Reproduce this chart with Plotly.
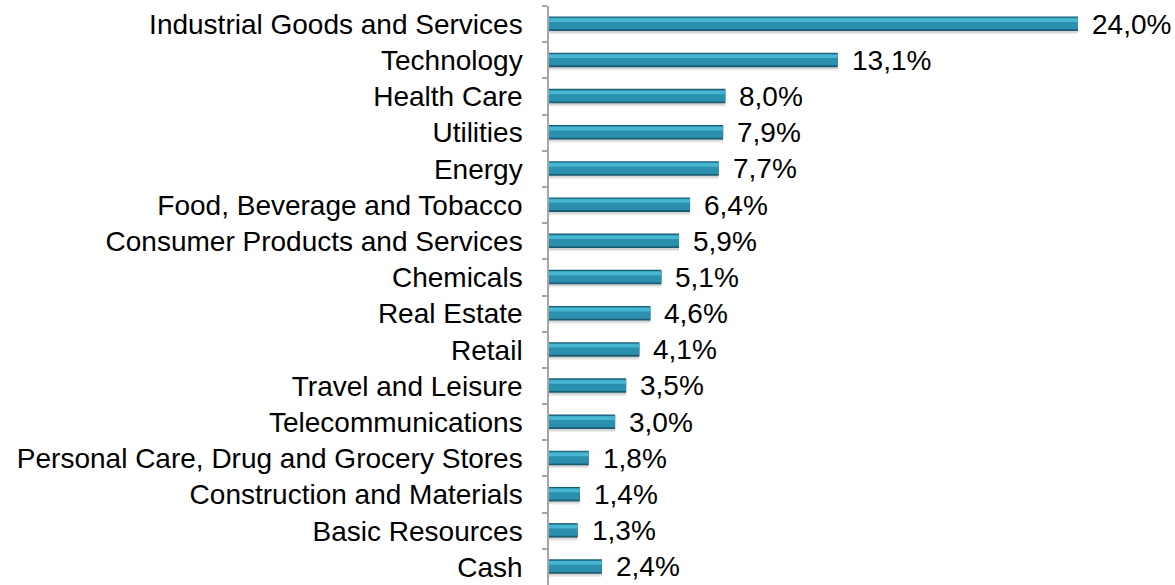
import plotly.graph_objects as go

categories = [
    "Industrial Goods and Services", "Technology", "Health Care", "Utilities",
    "Energy", "Food, Beverage and Tobacco", "Consumer Products and Services",
    "Chemicals", "Real Estate", "Retail", "Travel and Leisure",
    "Telecommunications", "Personal Care, Drug and Grocery Stores",
    "Construction and Materials", "Basic Resources", "Cash",
]
values = [24.0, 13.1, 8.0, 7.9, 7.7, 6.4, 5.9, 5.1, 4.6, 4.1, 3.5, 3.0, 1.8, 1.4, 1.3, 2.4]
labels = [f"{v:.1f}%".replace(".", ",") for v in values]

FONT = "Liberation Sans, Arial, sans-serif"
fig = go.Figure()

layers = [
    ("rgba(0,0,0,0.07)", 0.46, -0.18),
    ("rgba(0,0,0,0.10)", 0.42, -0.18),
    ("#1a5c72", 0.40, -0.21),
    ("#2b8fae", 0.32, -0.18),
    ("#47b7d1", 0.10, -0.16),
]
for color, w, off in layers:
    fig.add_trace(go.Bar(
        x=values, y=categories, orientation="h",
        marker=dict(color=color, line=dict(width=0)),
        width=w, offset=off, hoverinfo="skip", showlegend=False,
    ))

for c, v, t in zip(categories, values, labels):
    fig.add_annotation(x=v, y=c, text=t, showarrow=False, xanchor="left",
                       xshift=12, font=dict(family=FONT, size=28, color="#000000"))

fig.update_layout(
    width=1175, height=585, barmode="overlay",
    margin=dict(l=549, r=0, t=6, b=0),
    paper_bgcolor="white", plot_bgcolor="white",
    font=dict(family=FONT, size=28, color="#000000"),
)
fig.update_xaxes(range=[0, 28.4], visible=False, showgrid=False, zeroline=False)
fig.update_yaxes(
    type="category", autorange="reversed", showgrid=False,
    showline=True, linecolor="#a6a6a6", linewidth=1.5,
    ticks="outside", ticklen=5, tickcolor="#a6a6a6", tickwidth=1.5,
    tickson="boundaries", ticklabelstandoff=19, automargin=False,
    tickfont=dict(family=FONT, size=28, color="#000000"),
)
fig.write_html("out.html", config={"displayModeBar": False},
               post_script="document.body.style.margin='0';")
